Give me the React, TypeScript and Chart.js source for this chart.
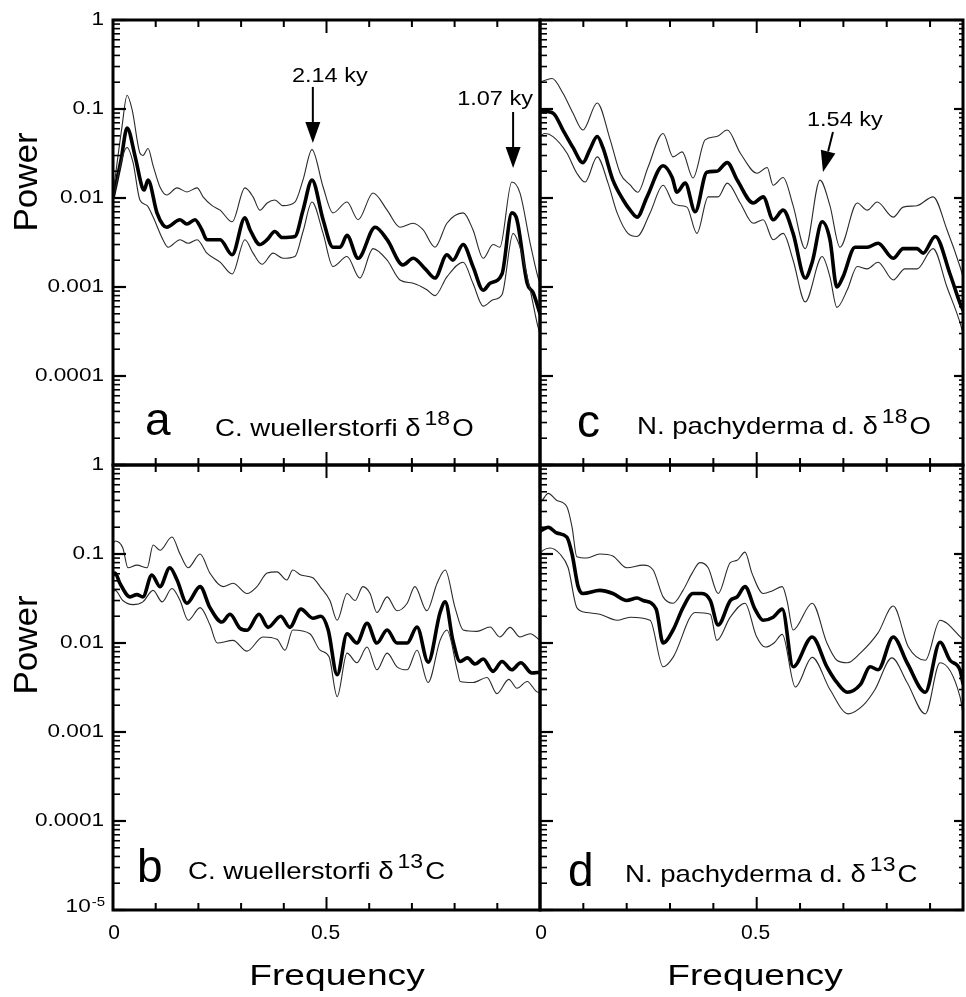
import React, { useEffect, useRef } from "react";
import { Chart, registerables } from "chart.js";

Chart.register(...registerables);

const PAGE_W = 966;
const PAGE_H = 997;
const FONT = '"Liberation Sans", Arial, Helvetica, sans-serif';
const THIN = "#2a2a2a";

// ---- axis ticks / labels ----
const X_TICKS = [0.1, 0.2, 0.3, 0.4, 0.5, 0.6, 0.7, 0.8, 0.9];
const X_LABELS = [0, 0.5];
const X_LABEL_TEXT = ["0", "0.5"];
const Y_DECADES = [1, 0.1, 0.01, 0.001, 0.0001, 0.00001];
const Y_LABELS_TOP = ["1", "0.1", "0.01", "0.001", "0.0001"];
const Y_LABELS_BOTTOM = ["1", "0.1", "0.01", "0.001", "0.0001", "10^-5"];

// ---- panel a : C. wuellerstorfi d18O ----
const A_MID_F = [0, 0.019, 0.033, 0.052, 0.068, 0.073, 0.082, 0.103, 0.117, 0.126, 0.157, 0.173, 0.192, 0.208, 0.22, 0.251, 0.279, 0.309, 0.321, 0.344, 0.361, 0.379, 0.396, 0.426, 0.445, 0.466, 0.492, 0.515, 0.532, 0.548, 0.574, 0.614, 0.642, 0.679, 0.703, 0.731, 0.754, 0.782, 0.796, 0.82, 0.843, 0.867, 0.883, 0.911, 0.934, 0.946, 0.97, 0.984, 1.0];
const A_MID_P = [0.010, 0.027, 0.061, 0.029, 0.0133, 0.0123, 0.0159, 0.0068, 0.005, 0.0047, 0.0057, 0.0051, 0.0057, 0.0044, 0.0034, 0.0034, 0.0023, 0.006, 0.0044, 0.003, 0.0034, 0.0042, 0.0036, 0.0037, 0.0073, 0.0159, 0.0057, 0.0028, 0.0028, 0.0038, 0.0021, 0.0047, 0.0034, 0.00177, 0.0021, 0.0016, 0.00126, 0.0023, 0.002, 0.003, 0.0017, 0.00092, 0.0011, 0.0014, 0.0068, 0.0057, 0.0011, 0.00086, 0.0005];
const A_UP_F = [0, 0.021, 0.033, 0.045, 0.063, 0.07, 0.082, 0.094, 0.11, 0.126, 0.15, 0.173, 0.197, 0.211, 0.232, 0.251, 0.279, 0.309, 0.328, 0.344, 0.361, 0.379, 0.398, 0.426, 0.445, 0.466, 0.492, 0.515, 0.548, 0.574, 0.609, 0.642, 0.672, 0.703, 0.726, 0.754, 0.782, 0.82, 0.843, 0.867, 0.89, 0.906, 0.934, 0.953, 0.977, 0.995, 1.0];
const A_UP_P = [0.011, 0.063, 0.143, 0.097, 0.032, 0.03, 0.036, 0.023, 0.0133, 0.0108, 0.013, 0.0117, 0.013, 0.0103, 0.0082, 0.0073, 0.0054, 0.013, 0.0103, 0.0073, 0.0088, 0.0095, 0.0082, 0.009, 0.016, 0.035, 0.0133, 0.0068, 0.009, 0.0057, 0.0114, 0.0073, 0.0047, 0.0052, 0.0044, 0.0028, 0.0052, 0.0068, 0.0044, 0.0021, 0.003, 0.0028, 0.0151, 0.0114, 0.0031, 0.0013, 0.0011];
const A_LO_F = [0, 0.033, 0.047, 0.063, 0.08, 0.094, 0.117, 0.129, 0.157, 0.176, 0.197, 0.22, 0.251, 0.279, 0.309, 0.328, 0.349, 0.375, 0.398, 0.426, 0.445, 0.466, 0.492, 0.515, 0.548, 0.578, 0.609, 0.642, 0.672, 0.703, 0.735, 0.754, 0.782, 0.82, 0.843, 0.867, 0.89, 0.911, 0.937, 0.953, 0.977, 0.995, 1.0];
const A_LO_P = [0.0098, 0.037, 0.025, 0.0095, 0.0082, 0.0061, 0.0034, 0.0028, 0.0034, 0.0031, 0.0034, 0.0024, 0.0019, 0.0014, 0.0034, 0.0024, 0.0018, 0.0024, 0.0021, 0.0022, 0.0042, 0.009, 0.004, 0.0017, 0.0022, 0.00126, 0.0027, 0.002, 0.0012, 0.0011, 0.00093, 0.0008, 0.0013, 0.0019, 0.0011, 0.00061, 0.00072, 0.00082, 0.004, 0.0028, 0.00093, 0.00036, 0.0003];

// ---- panel b : C. wuellerstorfi d13C ----
const B_MID_F = [0, 0.005, 0.016, 0.04, 0.056, 0.07, 0.091, 0.11, 0.133, 0.15, 0.173, 0.204, 0.227, 0.255, 0.274, 0.297, 0.314, 0.342, 0.363, 0.393, 0.414, 0.44, 0.468, 0.487, 0.504, 0.525, 0.548, 0.571, 0.595, 0.618, 0.642, 0.665, 0.689, 0.712, 0.738, 0.766, 0.778, 0.796, 0.813, 0.83, 0.848, 0.867, 0.89, 0.911, 0.934, 0.955, 0.981, 1.0];
const B_MID_P = [0.058, 0.061, 0.047, 0.033, 0.035, 0.033, 0.058, 0.043, 0.07, 0.051, 0.028, 0.043, 0.025, 0.0172, 0.021, 0.0147, 0.0139, 0.021, 0.015, 0.02, 0.015, 0.024, 0.019, 0.02, 0.014, 0.0044, 0.0127, 0.01, 0.0167, 0.01, 0.014, 0.01, 0.01, 0.0151, 0.0061, 0.022, 0.029, 0.0107, 0.0062, 0.0068, 0.0058, 0.0066, 0.0048, 0.0062, 0.005, 0.006, 0.0046, 0.0047];
const B_UP_F = [0, 0.005, 0.023, 0.035, 0.056, 0.08, 0.094, 0.11, 0.138, 0.157, 0.176, 0.204, 0.227, 0.258, 0.281, 0.314, 0.337, 0.361, 0.384, 0.407, 0.421, 0.44, 0.468, 0.485, 0.508, 0.525, 0.548, 0.567, 0.585, 0.602, 0.618, 0.642, 0.665, 0.689, 0.707, 0.735, 0.759, 0.778, 0.801, 0.82, 0.852, 0.883, 0.906, 0.93, 0.953, 0.977, 1.0];
const B_UP_P = [0.13, 0.14, 0.117, 0.07, 0.075, 0.07, 0.126, 0.11, 0.155, 0.1, 0.07, 0.1, 0.061, 0.043, 0.047, 0.036, 0.043, 0.061, 0.063, 0.051, 0.066, 0.058, 0.054, 0.043, 0.03, 0.018, 0.036, 0.03, 0.043, 0.036, 0.022, 0.033, 0.023, 0.028, 0.043, 0.023, 0.047, 0.066, 0.025, 0.014, 0.0135, 0.0151, 0.0117, 0.015, 0.0117, 0.0127, 0.0107];
const B_LO_F = [0, 0.005, 0.023, 0.047, 0.07, 0.094, 0.115, 0.138, 0.157, 0.176, 0.204, 0.227, 0.244, 0.281, 0.314, 0.351, 0.384, 0.403, 0.421, 0.461, 0.485, 0.506, 0.525, 0.548, 0.571, 0.595, 0.618, 0.642, 0.665, 0.689, 0.712, 0.738, 0.766, 0.782, 0.806, 0.813, 0.843, 0.876, 0.899, 0.927, 0.946, 0.97, 0.995, 1.0];
const B_LO_P = [0.038, 0.039, 0.03, 0.027, 0.029, 0.039, 0.029, 0.041, 0.03, 0.018, 0.025, 0.016, 0.01, 0.0107, 0.0081, 0.0117, 0.011, 0.0083, 0.014, 0.0127, 0.0083, 0.007, 0.0025, 0.0077, 0.006, 0.009, 0.005, 0.0077, 0.0054, 0.005, 0.0083, 0.0036, 0.0107, 0.014, 0.005, 0.0037, 0.0036, 0.0041, 0.0027, 0.0039, 0.0031, 0.0037, 0.0028, 0.0028];

// ---- panel c : N. pachyderma d. d18O ----
const C_MID_F = [0, 0.03, 0.053, 0.076, 0.099, 0.115, 0.132, 0.145, 0.168, 0.192, 0.208, 0.224, 0.247, 0.284, 0.305, 0.316, 0.335, 0.358, 0.385, 0.408, 0.432, 0.455, 0.492, 0.515, 0.538, 0.561, 0.584, 0.612, 0.628, 0.651, 0.669, 0.685, 0.699, 0.727, 0.755, 0.78, 0.815, 0.838, 0.87, 0.884, 0.912, 0.946, 0.969, 0.976];
const C_MID_P = [0.095, 0.09, 0.058, 0.037, 0.025, 0.035, 0.049, 0.037, 0.016, 0.0095, 0.0073, 0.0061, 0.0103, 0.023, 0.017, 0.0116, 0.0147, 0.007, 0.0195, 0.02, 0.025, 0.0159, 0.0088, 0.0103, 0.0057, 0.0073, 0.004, 0.00126, 0.0019, 0.0054, 0.0034, 0.001, 0.0013, 0.0028, 0.0028, 0.0031, 0.0021, 0.0027, 0.0027, 0.0024, 0.0037, 0.0014, 0.00066, 0.00055];
const C_UP_F = [0, 0.012, 0.028, 0.053, 0.076, 0.099, 0.132, 0.162, 0.185, 0.208, 0.226, 0.249, 0.284, 0.307, 0.328, 0.353, 0.381, 0.408, 0.432, 0.462, 0.501, 0.524, 0.538, 0.561, 0.584, 0.612, 0.646, 0.669, 0.692, 0.732, 0.755, 0.778, 0.815, 0.838, 0.87, 0.907, 0.939, 0.969, 0.976];
const C_UP_P = [0.2, 0.21, 0.22, 0.15, 0.09, 0.058, 0.117, 0.045, 0.019, 0.014, 0.0116, 0.022, 0.053, 0.029, 0.033, 0.0168, 0.045, 0.049, 0.058, 0.032, 0.019, 0.022, 0.0139, 0.017, 0.0082, 0.0027, 0.0159, 0.0082, 0.0028, 0.0088, 0.0073, 0.009, 0.0061, 0.0079, 0.0082, 0.0103, 0.0044, 0.0017, 0.0013];
const C_LO_F = [0, 0.012, 0.03, 0.062, 0.085, 0.104, 0.132, 0.157, 0.178, 0.203, 0.224, 0.254, 0.284, 0.307, 0.323, 0.339, 0.362, 0.388, 0.411, 0.432, 0.462, 0.492, 0.515, 0.538, 0.561, 0.584, 0.612, 0.651, 0.669, 0.685, 0.709, 0.732, 0.755, 0.78, 0.815, 0.842, 0.87, 0.907, 0.939, 0.969, 0.976];
const C_LO_P = [0.05, 0.053, 0.049, 0.032, 0.019, 0.0151, 0.029, 0.0147, 0.0068, 0.004, 0.0037, 0.0068, 0.0139, 0.0088, 0.0082, 0.0079, 0.004, 0.0103, 0.0103, 0.0147, 0.0088, 0.0052, 0.0057, 0.0034, 0.004, 0.002, 0.00068, 0.0022, 0.0013, 0.00059, 0.00093, 0.0017, 0.0016, 0.0019, 0.0012, 0.0016, 0.0016, 0.0027, 0.001, 0.0004, 0.0003];

// ---- panel d : N. pachyderma d. d13C ----
const D_MID_F = [0, 0.005, 0.019, 0.039, 0.062, 0.074, 0.088, 0.099, 0.138, 0.168, 0.2, 0.224, 0.238, 0.268, 0.284, 0.307, 0.33, 0.353, 0.374, 0.393, 0.411, 0.439, 0.455, 0.473, 0.496, 0.515, 0.538, 0.559, 0.584, 0.628, 0.662, 0.685, 0.709, 0.739, 0.762, 0.78, 0.815, 0.847, 0.889, 0.923, 0.946, 0.969, 0.976];
const D_MID_P = [0.18, 0.186, 0.2, 0.172, 0.155, 0.1, 0.043, 0.036, 0.039, 0.036, 0.03, 0.032, 0.03, 0.024, 0.01, 0.014, 0.025, 0.036, 0.036, 0.03, 0.016, 0.03, 0.033, 0.043, 0.024, 0.018, 0.0195, 0.024, 0.0054, 0.0117, 0.0054, 0.0036, 0.0028, 0.0034, 0.0054, 0.005, 0.0117, 0.006, 0.0028, 0.0102, 0.0064, 0.005, 0.0035];
const D_UP_F = [0, 0.005, 0.019, 0.039, 0.062, 0.074, 0.085, 0.108, 0.138, 0.168, 0.2, 0.238, 0.261, 0.284, 0.307, 0.33, 0.351, 0.369, 0.388, 0.411, 0.439, 0.455, 0.473, 0.489, 0.515, 0.538, 0.559, 0.57, 0.584, 0.628, 0.662, 0.685, 0.709, 0.739, 0.78, 0.815, 0.85, 0.889, 0.923, 0.976];
const D_UP_P = [0.38, 0.4, 0.48, 0.4, 0.34, 0.2, 0.093, 0.09, 0.1, 0.095, 0.07, 0.075, 0.066, 0.033, 0.028, 0.039, 0.061, 0.08, 0.07, 0.036, 0.08, 0.085, 0.105, 0.061, 0.036, 0.039, 0.043, 0.03, 0.014, 0.028, 0.01, 0.0064, 0.006, 0.0077, 0.013, 0.026, 0.009, 0.0064, 0.018, 0.011];
const D_LO_F = [0, 0.007, 0.023, 0.046, 0.065, 0.085, 0.108, 0.138, 0.178, 0.208, 0.254, 0.284, 0.307, 0.358, 0.393, 0.408, 0.439, 0.473, 0.499, 0.52, 0.54, 0.559, 0.589, 0.628, 0.669, 0.711, 0.746, 0.773, 0.812, 0.847, 0.889, 0.923, 0.969, 0.976];
const D_LO_P = [0.1, 0.11, 0.117, 0.1, 0.07, 0.025, 0.022, 0.021, 0.018, 0.0195, 0.018, 0.0054, 0.0069, 0.022, 0.021, 0.0107, 0.0195, 0.028, 0.012, 0.009, 0.01, 0.0125, 0.0032, 0.0069, 0.003, 0.0016, 0.002, 0.003, 0.0068, 0.0036, 0.0016, 0.006, 0.0025, 0.0016];

// ---- peak annotations (data coordinates) ----
const ANNOT_A = [
  { label: "2.14 ky", tipF: 0.468, tipP: 0.0415, tailF: 0.468, tailP: 0.177, textF: 0.419, textP: 0.2 },
  { label: "1.07 ky", tipF: 0.937, tipP: 0.0217, tailF: 0.937, tailP: 0.0925, textF: 0.806, textP: 0.111 },
];
const ANNOT_C = [
  { label: "1.54 ky", tipF: 0.653, tipP: 0.0196, tailF: 0.676, tailP: 0.0552, textF: 0.616, textP: 0.0644 },
];

type Annot = typeof ANNOT_A[number];

interface PanelDef {
  key: string;
  area: { left: number; top: number; right: number; bottom: number };
  xMax: number;
  mid: [number[], number[]];
  up: [number[], number[]];
  lo: [number[], number[]];
  yLabels: string[] | null;
  xLabels: boolean;
  rightTicks: boolean;
  letter: { t: string; x: number; y: number };
  species: { name: string; iso: string; el: string; x: number; y: number };
  annots: Annot[];
  power: { x: number; y: number } | null;
  freq: { x: number; y: number } | null;
}

const PANELS: PanelDef[] = [
  {
    key: "a", area: { left: 113, top: 20, right: 540, bottom: 465 }, xMax: 1,
    mid: [A_MID_F, A_MID_P], up: [A_UP_F, A_UP_P], lo: [A_LO_F, A_LO_P],
    yLabels: Y_LABELS_TOP, xLabels: false, rightTicks: false,
    letter: { t: "a", x: 145, y: 435 },
    species: { name: "C. wuellerstorfi ", iso: "18", el: "O", x: 215, y: 436 },
    annots: ANNOT_A, power: { x: 37, y: 182 }, freq: null,
  },
  {
    key: "b", area: { left: 113, top: 465, right: 540, bottom: 910 }, xMax: 1,
    mid: [B_MID_F, B_MID_P], up: [B_UP_F, B_UP_P], lo: [B_LO_F, B_LO_P],
    yLabels: Y_LABELS_BOTTOM, xLabels: true, rightTicks: false,
    letter: { t: "b", x: 137, y: 882 },
    species: { name: "C. wuellerstorfi ", iso: "13", el: "C", x: 188, y: 879 },
    annots: [], power: { x: 37, y: 645 }, freq: { x: 337, y: 985 },
  },
  {
    key: "c", area: { left: 540, top: 20, right: 963, bottom: 465 }, xMax: 0.976,
    mid: [C_MID_F, C_MID_P], up: [C_UP_F, C_UP_P], lo: [C_LO_F, C_LO_P],
    yLabels: null, xLabels: false, rightTicks: true,
    letter: { t: "c", x: 577, y: 437 },
    species: { name: "N. pachyderma d. ", iso: "18", el: "O", x: 637, y: 434 },
    annots: ANNOT_C, power: null, freq: null,
  },
  {
    key: "d", area: { left: 540, top: 465, right: 963, bottom: 910 }, xMax: 0.976,
    mid: [D_MID_F, D_MID_P], up: [D_UP_F, D_UP_P], lo: [D_LO_F, D_LO_P],
    yLabels: null, xLabels: true, rightTicks: true,
    letter: { t: "d", x: 568, y: 886 },
    species: { name: "N. pachyderma d. ", iso: "13", el: "C", x: 625, y: 882 },
    annots: [], power: null, freq: { x: 755, y: 985 },
  },
];

const pts = (s: [number[], number[]]) => {
  const n = Math.min(s[0].length, s[1].length);
  const out: { x: number; y: number }[] = [];
  for (let i = 0; i < n; i++) out.push({ x: s[0][i], y: s[1][i] });
  return out;
};

function drawText(
  ctx: CanvasRenderingContext2D, s: string, x: number, y: number, size: number, sx: number,
  align: CanvasTextAlign, baseline: CanvasTextBaseline = "alphabetic"
) {
  ctx.save();
  ctx.font = `${size}px ${FONT}`;
  ctx.textAlign = align;
  ctx.textBaseline = baseline;
  ctx.translate(x, y);
  ctx.scale(sx, 1);
  ctx.fillText(s, 0, 0);
  ctx.restore();
}

function textW(ctx: CanvasRenderingContext2D, s: string, size: number, sx: number) {
  ctx.save();
  ctx.font = `${size}px ${FONT}`;
  const w = ctx.measureText(s).width * sx;
  ctx.restore();
  return w;
}

function makeDecor(def: PanelDef) {
  return {
    id: "decor_" + def.key,
    afterDraw(chart: any) {
      const ctx: CanvasRenderingContext2D = chart.ctx;
      const xs = chart.scales.x;
      const ys = chart.scales.y;
      const { left, right, top, bottom } = chart.chartArea;
      ctx.save();
      ctx.strokeStyle = "#000";
      ctx.fillStyle = "#000";
      const seg = (x1: number, y1: number, x2: number, y2: number) => {
        ctx.beginPath();
        ctx.moveTo(x1, y1);
        ctx.lineTo(x2, y2);
        ctx.stroke();
      };
      // x ticks (inward, top and bottom)
      ctx.lineWidth = 2;
      for (const t of X_TICKS) {
        if (t >= def.xMax) continue;
        const px = xs.getPixelForValue(t);
        const len = t === 0.5 ? 13 : 7;
        seg(px, top, px, top + len);
        seg(px, bottom, px, bottom - len);
      }
      // y ticks (log decades + minors)
      for (let e = -5; e <= 0; e++) {
        for (let m = 1; m <= 9; m++) {
          const v = m * Math.pow(10, e);
          if (v > 1.0001) break;
          const py = ys.getPixelForValue(v);
          const major = m === 1;
          ctx.lineWidth = major ? 2.2 : 1.6;
          seg(left, py, left + (major ? 13 : 7), py);
          if (def.rightTicks) seg(right, py, right - (major ? 9 : 4), py);
        }
      }
      // frame
      ctx.lineWidth = 3;
      ctx.strokeRect(left, top, right - left, bottom - top);

      // y tick labels
      if (def.yLabels) {
        def.yLabels.forEach((lab, i) => {
          const py = ys.getPixelForValue(Y_DECADES[i]);
          if (lab.includes("^")) {
            const [b, sup] = lab.split("^");
            drawText(ctx, sup, 105, py - 8, 13, 1.15, "right", "middle");
            const sw = textW(ctx, sup, 13, 1.15);
            drawText(ctx, b, 105 - sw - 1, py - 3, 18.5, 1.22, "right", "middle");
          } else {
            drawText(ctx, lab, 104, py, 18.5, 1.22, "right", "middle");
          }
        });
      }
      // x tick labels
      if (def.xLabels) {
        X_LABELS.forEach((v, i) => {
          const px = xs.getPixelForValue(v) + (v === 0 ? 1 : -1);
          drawText(ctx, X_LABEL_TEXT[i], px, 933, 21, 1.0, "center", "middle");
        });
      }
      // panel letter
      drawText(ctx, def.letter.t, def.letter.x, def.letter.y, 46, 1.0, "left");
      // species label with superscript isotope
      {
        const sp = def.species;
        const SX = 1.15;
        let x = sp.x;
        const main = sp.name + "\u03B4";
        drawText(ctx, main, x, sp.y, 24, SX, "left");
        x += textW(ctx, main, 24, SX) + 4;
        drawText(ctx, sp.iso, x, sp.y - 11, 20, SX, "left");
        x += textW(ctx, sp.iso, 20, SX) + 2;
        drawText(ctx, sp.el, x, sp.y, 24, SX, "left");
      }
      // annotations
      def.annots.forEach((a) => {
        const tx = xs.getPixelForValue(a.tipF), ty = ys.getPixelForValue(a.tipP);
        const sx0 = xs.getPixelForValue(a.tailF), sy0 = ys.getPixelForValue(a.tailP);
        const ang = Math.atan2(ty - sy0, tx - sx0);
        const hl = 21, hw = 7.5;
        const bx = tx - hl * Math.cos(ang), by = ty - hl * Math.sin(ang);
        ctx.lineWidth = 2;
        seg(sx0, sy0, bx, by);
        ctx.beginPath();
        ctx.moveTo(tx, ty);
        ctx.lineTo(bx + hw * Math.sin(ang), by - hw * Math.cos(ang));
        ctx.lineTo(bx - hw * Math.sin(ang), by + hw * Math.cos(ang));
        ctx.closePath();
        ctx.fill();
        drawText(ctx, a.label, xs.getPixelForValue(a.textF), ys.getPixelForValue(a.textP), 21, 1.12, "left");
      });
      // axis titles
      if (def.power) {
        ctx.save();
        ctx.translate(def.power.x, def.power.y);
        ctx.rotate(-Math.PI / 2);
        ctx.scale(1.06, 1);
        ctx.font = `33px ${FONT}`;
        ctx.textAlign = "center";
        ctx.textBaseline = "alphabetic";
        ctx.fillText("Power", 0, 0);
        ctx.restore();
      }
      if (def.freq) {
        drawText(ctx, "Frequency", def.freq.x, def.freq.y, 29, 1.28, "center");
      }
      ctx.restore();
    },
  };
}

export default function App() {
  const refs = [useRef<HTMLCanvasElement>(null), useRef<HTMLCanvasElement>(null), useRef<HTMLCanvasElement>(null), useRef<HTMLCanvasElement>(null)];

  useEffect(() => {
    const charts: Chart[] = [];
    PANELS.forEach((def, i) => {
      const cv = refs[i].current;
      if (!cv) return;
      const a = def.area;
      const chart = new Chart(cv, {
        type: "line",
        data: {
          datasets: [
            { data: pts(def.up), borderColor: THIN, borderWidth: 1.1 },
            { data: pts(def.lo), borderColor: THIN, borderWidth: 1.1 },
            { data: pts(def.mid), borderColor: "#000", borderWidth: 3.6 },
          ],
        },
        options: {
          responsive: false,
          animation: false,
          devicePixelRatio: 1,
          events: [],
          layout: { padding: { left: a.left, top: a.top, right: PAGE_W - a.right, bottom: PAGE_H - a.bottom } },
          scales: {
            x: { type: "linear", min: 0, max: def.xMax, display: false },
            y: { type: "logarithmic", min: 0.00001, max: 1, display: false },
          },
          elements: {
            point: { radius: 0 },
            line: { cubicInterpolationMode: "monotone", borderJoinStyle: "round", borderCapStyle: "round", fill: false },
          },
          plugins: { legend: { display: false }, tooltip: { enabled: false } },
        } as any,
        plugins: [makeDecor(def)],
      });
      charts.push(chart);
    });
    return () => charts.forEach((c) => c.destroy());
  }, []);

  return (
    <div style={{ position: "absolute", left: 0, top: 0, width: PAGE_W, height: PAGE_H, background: "#fff" }}>
      {refs.map((r, i) => (
        <canvas
          key={i}
          ref={r}
          width={PAGE_W}
          height={PAGE_H}
          style={{ position: "absolute", left: 0, top: 0, width: PAGE_W, height: PAGE_H, pointerEvents: "none" }}
        />
      ))}
    </div>
  );
}
